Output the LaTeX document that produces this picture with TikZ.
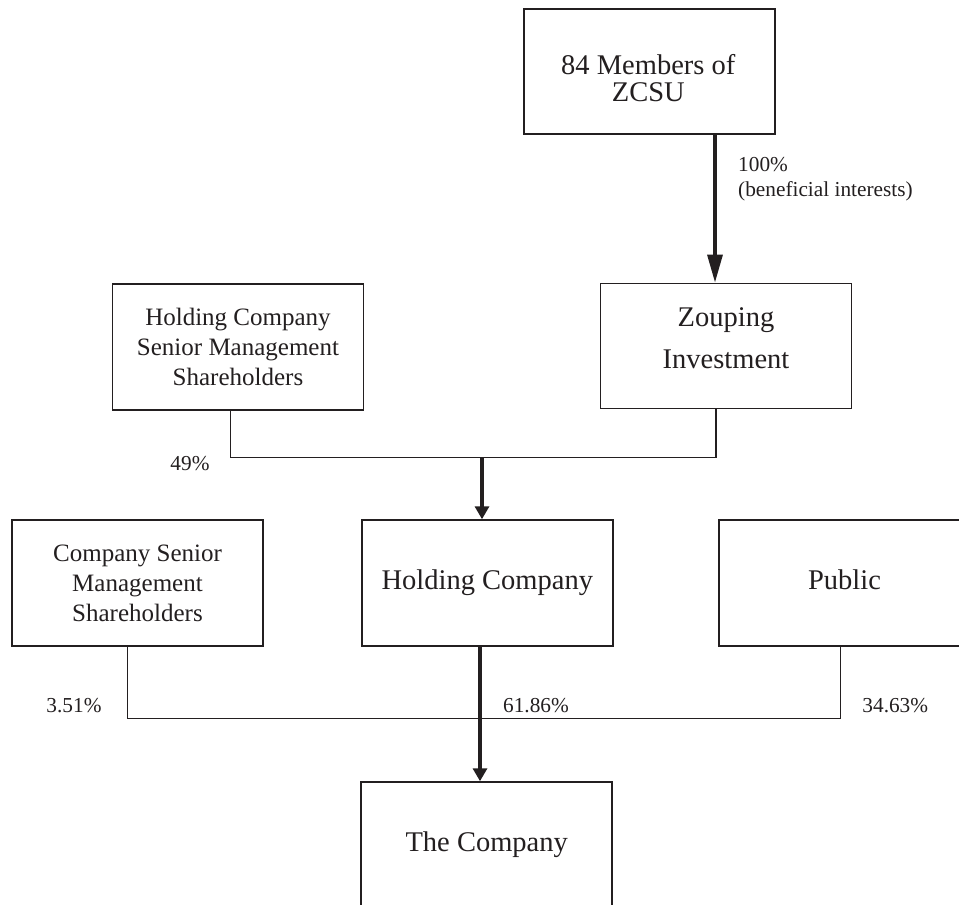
\documentclass[tikz,border=0pt]{standalone}
\usepackage{fontspec}
\setmainfont{Liberation Serif}
\usetikzlibrary{arrows.meta}
\definecolor{ink}{RGB}{35,31,32}
\begin{document}
\begin{tikzpicture}[x=1pt,y=1pt,
  box/.style={draw=ink, line width=1.5pt, minimum width=251pt, minimum height=126pt, inner sep=0pt, text=ink, align=center},
  bigfont/.style={font=\fontsize{28.5}{27}\selectfont},
  midfont/.style={font=\fontsize{25}{30}\selectfont},
  pct/.style={font=\fontsize{21.3}{25}\selectfont, text=ink, inner sep=0pt},
  oneline/.style={text height=19.5pt, text depth=6.2pt},
  txt/.style={text=ink, inner sep=0pt, align=center},
  link/.style={draw=ink, line width=1.3pt},
  mainlink/.style={draw=ink, line width=3.3pt, -{Triangle[length=13pt,width=14pt]}},
  toplink/.style={draw=ink, line width=3.3pt, -{Triangle[length=28pt,width=15pt]}},
]
\useasboundingbox (0,0) rectangle (959,-905);
\clip (0,0) rectangle (959,-905);
\fill[white] (0,0) rectangle (959,-905);

% boxes
\node[box, minimum height=125pt] (zcsu) at (649.5,-71.5) {};
\node[txt, bigfont] (zcsutext) at (648.3,-77.9) {84 Members of\\ZCSU};

\node[box, minimum height=125pt] (zoup) at (726.2,-345.8) {};
\node[txt, font=\fontsize{28.5}{41.7}\selectfont] (zouptext) at (726,-337.9) {Zouping\\Investment};

\node[box, midfont] (hcsm) at (238,-347.2) {Holding Company\\Senior Management\\Shareholders};

\node[box, midfont] (csms) at (137.5,-583) {Company Senior\\Management\\Shareholders};
\node[box, bigfont, oneline] (holdco) at (487.3,-583) {Holding Company};
\node[box, bigfont, oneline] (public) at (844.5,-583) {Public};
\node[box, bigfont, oneline] (company) at (486.7,-845) {The Company};

% ZCSU -> Zouping
\draw[toplink] ([xshift=65.5pt]zcsu.south) -- ([xshift=65.5pt]zcsu.south |- zoup.north);

% upper bar
\coordinate (j1) at (482,-457.5);
\draw[link] ([xshift=-7.5pt]hcsm.south) |- (j1) -| ([xshift=-10.2pt]zoup.south);
\draw[mainlink] (j1) -- (j1 |- holdco.north);

% lower bar
\coordinate (j2) at (480,-718.3);
\draw[link] ([xshift=-9.8pt]csms.south) |- (j2) -| ([xshift=-3.8pt]public.south);
\draw[mainlink] ([xshift=-7.3pt]holdco.south) -- ([xshift=-7.3pt]holdco.south |- company.north);

% labels
\node[pct, align=left, anchor=west] (benef) at (738,-179.3) {100\%\\(beneficial interests)};
\node[pct, anchor=base] (p49) at (190,-470.5) {49\%};
\node[pct, anchor=base] (p351) at (74,-712.3) {3.51\%};
\node[pct, anchor=base] (p6186) at (536,-712.3) {61.86\%};
\node[pct, anchor=base] (p3463) at (895.3,-712.3) {34.63\%};
\end{tikzpicture}
\end{document}
